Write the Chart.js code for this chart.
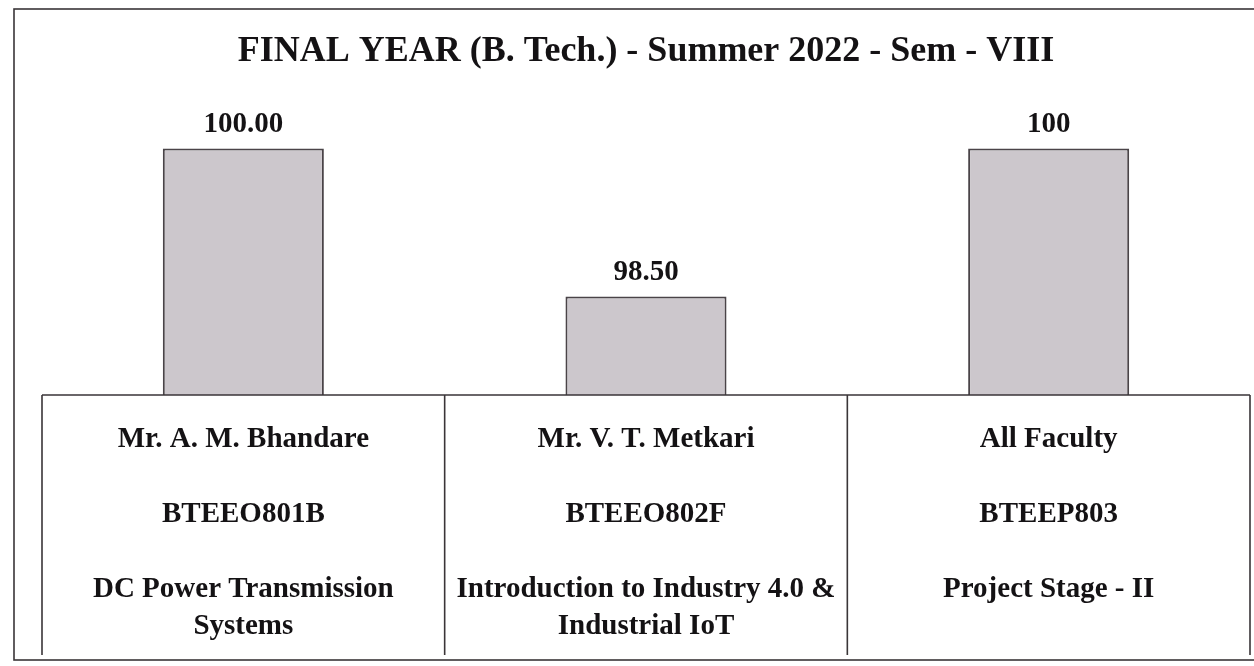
<!DOCTYPE html>
<html>
<head>
<meta charset="utf-8">
<title>FINAL YEAR (B. Tech.) - Summer 2022 - Sem - VIII</title>
<script src="https://cdn.jsdelivr.net/npm/chart.js@4/dist/chart.umd.min.js"></script>
<style>
  html, body { margin: 0; padding: 0; background: #fff; }
  canvas { display: block; }
</style>
</head>
<body>
<canvas id="result-chart" width="1254" height="666"></canvas>
<script>
// 数据
const chartTitle = 'FINAL YEAR (B. Tech.) - Summer 2022 - Sem - VIII';
const facultyNames = ['Mr. A. M. Bhandare', 'Mr. V. T. Metkari', 'All Faculty'];
const courseCodes = ['BTEEO801B', 'BTEEO802F', 'BTEEP803'];
const courseNames = [
    ['DC Power Transmission', 'Systems'],
    ['Introduction to Industry 4.0 &', 'Industrial IoT'],
    ['Project Stage - II']
];
const resultValues = [100, 98.5, 100];
const valueLabels = ['100.00', '98.50', '100'];

const serifFont = '"Liberation Serif", "DejaVu Serif", serif';

// 柱顶数值
const valueLabelPlugin = {
    id: 'valueLabels',
    afterDatasetsDraw(chart) {
        const ctx = chart.ctx;
        const meta = chart.getDatasetMeta(0);
        ctx.save();
        ctx.fillStyle = '#141214';
        ctx.font = 'bold 29px ' + serifFont;
        ctx.textAlign = 'center';
        ctx.textBaseline = 'middle';
        meta.data.forEach((bar, i) => {
            ctx.fillText(valueLabels[i], bar.x, bar.y - 24);
        });
        ctx.restore();
    }
};

// 下方表格 + 外框
const tablePlugin = {
    id: 'categoryTable',
    afterDraw(chart) {
        const ctx = chart.ctx;
        const area = chart.chartArea;
        const xScale = chart.scales.x;
        const top = area.bottom;
        const bottom = 655;
        const half = (xScale.getPixelForValue(1) - xScale.getPixelForValue(0)) / 2;

        ctx.save();
        ctx.strokeStyle = '#3a3538';
        ctx.lineWidth = 1.6;

        // 外框
        ctx.strokeRect(14, 9, chart.width + 10, 651);

        // 表格线
        ctx.beginPath();
        ctx.moveTo(area.left, top);
        ctx.lineTo(area.right, top);
        for (let i = 0; i <= facultyNames.length; i++) {
            const x = xScale.getPixelForValue(i) - half;
            ctx.moveTo(x, top);
            ctx.lineTo(x, bottom);
        }
        ctx.stroke();

        // 单元格文字
        ctx.fillStyle = '#141214';
        ctx.font = 'bold 29px ' + serifFont;
        ctx.textAlign = 'center';
        ctx.textBaseline = 'middle';
        facultyNames.forEach((name, i) => {
            const cx = xScale.getPixelForValue(i);
            ctx.fillText(name, cx, top + 45);
            ctx.fillText(courseCodes[i], cx, top + 120);
            courseNames[i].forEach((line, j) => {
                ctx.fillText(line, cx, top + 195 + j * 37);
            });
        });
        ctx.restore();
    }
};

const ctx = document.getElementById('result-chart').getContext('2d');

window.resultChart = new Chart(ctx, {
    type: 'bar',
    data: {
        labels: courseCodes,
        datasets: [
            {
                label: chartTitle,
                data: resultValues,
                backgroundColor: '#ccc7cc',
                borderColor: '#4a4448',
                borderWidth: 2,
                barPercentage: 0.4,
                categoryPercentage: 1
            }
        ]
    },
    options: {
        responsive: false,
        animation: false,
        layout: {
            padding: { top: 12, left: 42, right: 4, bottom: 271 }
        },
        scales: {
            x: { display: false },
            y: { display: false, min: 97.5, max: 100.5 }
        },
        plugins: {
            legend: { display: false },
            tooltip: { enabled: false },
            title: {
                display: true,
                text: chartTitle,
                color: '#141214',
                font: { family: serifFont, size: 36, weight: 'bold' },
                padding: { top: 18, bottom: 26 }
            }
        }
    },
    plugins: [valueLabelPlugin, tablePlugin]
});
</script>
</body>
</html>
